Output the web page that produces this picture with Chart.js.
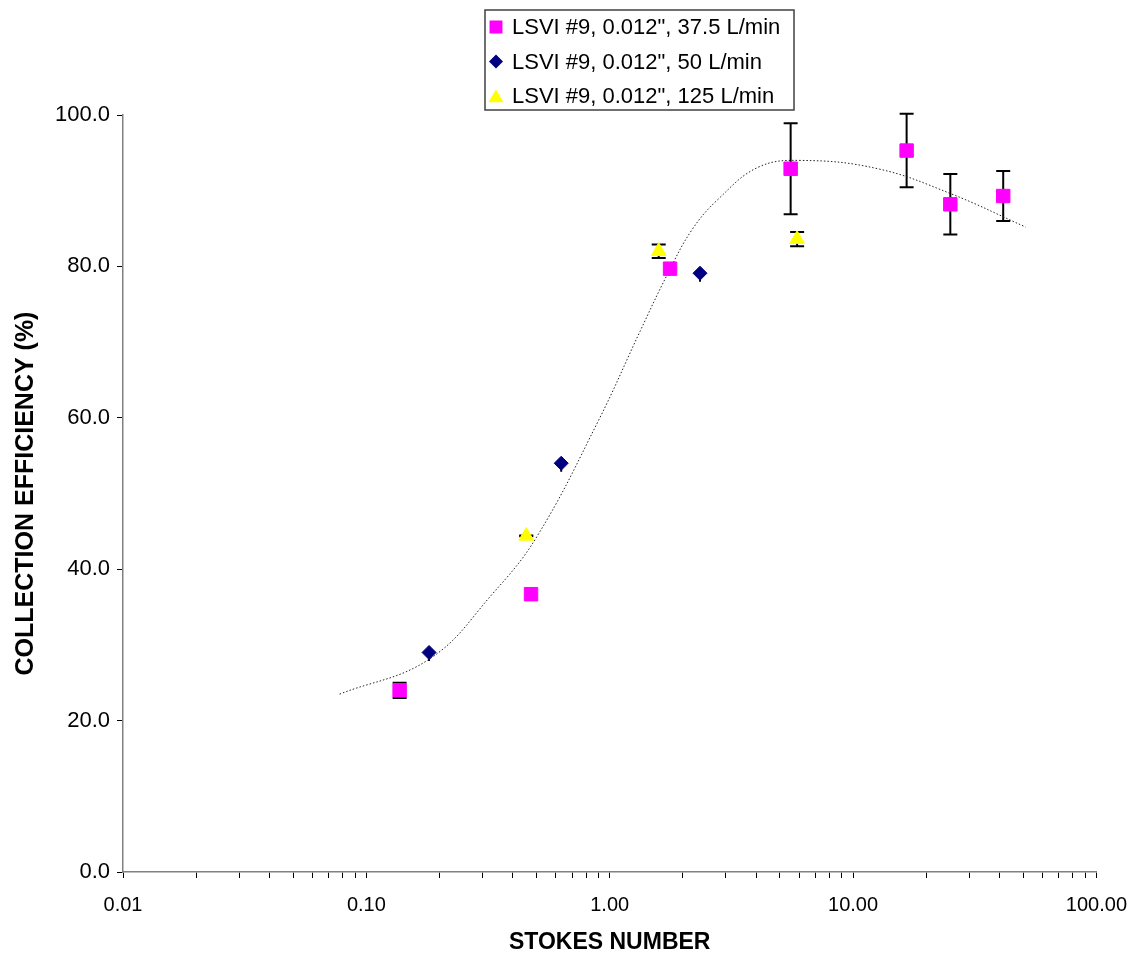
<!DOCTYPE html>
<html>
<head>
<meta charset="utf-8">
<script src="https://cdn.jsdelivr.net/npm/chart.js"></script>
<style>
  body { margin: 0; background: #fff; }
  #wrap { width: 1142px; height: 958px; }
</style>
</head>
<body>
<div id="wrap"><canvas id="effChart" width="1142" height="958"></canvas></div>
<script>
// Stokes number vs collection efficiency, LSVI #9 0.012"
var stk375 = [0.137, 0.475, 1.77, 5.54, 16.6, 25.1, 41.4];
var eff375 = [24.0, 36.7, 79.7, 92.9, 95.3, 88.2, 89.3];
var up375 = [1.0, null, null, 6.0, 4.85, 4.0, 3.3];
var down375 = [1.0, null, null, 6.0, 4.85, 4.0, 3.3];

var stk50 = [0.181, 0.632, 2.35];
var eff50 = [29.0, 54.0, 79.1];
var up50 = [null, null, null];
var down50 = [1.0, 1.0, 1.0];

var stk125 = [0.454, 1.59, 5.89];
var eff125 = [44.4, 82.0, 83.6];
var up125 = [0.05, 0.9, 0.95];
var down125 = [0.05, 0.9, 0.95];

// trendline
var trendX = [0.0776, 0.181, 0.329, 0.502, 0.901, 1.336, 1.717, 2.174, 2.796, 4.077, 6.114, 12.64, 25.23, 51.2];
var trendY = [23.5, 28.1, 36.7, 44.3, 59.7, 71.5, 78.8, 84.8, 88.9, 93.1, 94.0, 92.9, 89.6, 85.2];

var decades = [0.01, 0.1, 1, 10, 100];
var yTicks = [0, 20, 40, 60, 80, 100];

var seriesNames = ['LSVI #9, 0.012", 37.5 L/min', 'LSVI #9, 0.012", 50 L/min', 'LSVI #9, 0.012", 125 L/min'];

var magenta = '#FF00FF';
var navy = '#000080';
var yellow = '#FFFF00';
var axisGray = '#808080';
var narrow = "'Liberation Sans Narrow', 'Arial Narrow', 'Liberation Sans', Arial, sans-serif";
var arial = "'Liberation Sans', Arial, sans-serif";

function pts(xs, ys) {
    return xs.map(function (x, i) { return { x: x, y: ys[i] }; });
}

// x ticks: decades plus 2..9 minors
var logTicks = [];
for (var d = 0; d < decades.length - 1; d++) {
    for (var k = 1; k <= 9; k++) logTicks.push(decades[d] * k);
}
logTicks.push(100);

// ─── error bars (under the markers) ───────────────────────────
var errorBars = {
    id: 'errorBars',
    beforeDatasetsDraw: function (chart) {
        var ctx = chart.ctx;
        var xs = chart.scales.x, ys = chart.scales.y;
        ctx.save();
        ctx.strokeStyle = '#000';
        ctx.lineWidth = 2;
        chart.data.datasets.forEach(function (ds) {
            if (!ds.errUp) return;
            var cap = ds.capHalf || 7;
            ds.data.forEach(function (p, i) {
                var px = xs.getPixelForValue(p.x);
                var py = ys.getPixelForValue(p.y);
                [ds.errUp[i], ds.errDown[i] === null ? null : -ds.errDown[i]].forEach(function (e) {
                    if (e === null || e === undefined) return;
                    var ey = ys.getPixelForValue(p.y + e);
                    ctx.beginPath();
                    ctx.moveTo(px, py); ctx.lineTo(px, ey);
                    ctx.moveTo(px - cap, ey); ctx.lineTo(px + cap, ey);
                    ctx.stroke();
                });
            });
        });
        ctx.restore();
    }
};

// ─── boxed legend at top ──────────────────────────────────────
var boxLegend = {
    id: 'boxLegend',
    afterDraw: function (chart) {
        var ctx = chart.ctx;
        var bx = 485, by = 10, bw = 309, bh = 100;
        ctx.save();
        ctx.fillStyle = '#fff';
        ctx.fillRect(bx, by, bw, bh);
        ctx.strokeStyle = '#404040';
        ctx.lineWidth = 1.5;
        ctx.strokeRect(bx, by, bw, bh);
        ctx.font = '22px ' + arial;
        ctx.textBaseline = 'middle';
        for (var i = 0; i < 3; i++) {
            var ds = chart.data.datasets[i];
            var cy = 27 + i * 34.5;
            ctx.fillStyle = ds.backgroundColor;
            ctx.strokeStyle = ds.borderColor;
            Chart.helpers.drawPoint(ctx, { pointStyle: ds.pointStyle, radius: ds.pointRadius * 0.85, rotation: 0, borderWidth: 1 }, 496, cy + (ds.pointStyle === 'triangle' ? 2 : 0));
            ctx.fillStyle = '#000';
            ctx.fillText(seriesNames[i], 512, cy + 1);
        }
        ctx.restore();
    }
};

new Chart(document.getElementById('effChart').getContext('2d'), {
    type: 'scatter',
    data: {
        datasets: [{
            label: seriesNames[0],
            data: pts(stk375, eff375),
            errUp: up375,
            errDown: down375,
            pointStyle: 'rect',
            pointRadius: 9.5,
            backgroundColor: magenta,
            borderColor: magenta,
            borderWidth: 1,
            order: 1
        }, {
            label: seriesNames[1],
            data: pts(stk50, eff50),
            errUp: up50,
            errDown: down50,
            capHalf: 1,
            pointStyle: 'rectRot',
            pointRadius: 7,
            backgroundColor: navy,
            borderColor: navy,
            borderWidth: 1,
            order: 2
        }, {
            label: seriesNames[2],
            data: pts(stk125, eff125),
            errUp: up125,
            errDown: down125,
            pointStyle: 'triangle',
            pointRadius: 8.5,
            backgroundColor: yellow,
            borderColor: yellow,
            borderWidth: 1,
            order: 3
        }, {
            type: 'line',
            label: 'trend',
            data: pts(trendX, trendY),
            borderColor: '#222',
            borderWidth: 1,
            borderDash: [1.5, 2],
            pointRadius: 0,
            fill: false,
            tension: 0.4,
            order: 4
        }]
    },
    options: {
        responsive: false,
        animation: false,
        layout: { padding: { top: 115, right: 43, left: 0, bottom: 0 } },
        plugins: {
            legend: { display: false },
            tooltip: { enabled: false }
        },
        scales: {
            x: {
                type: 'logarithmic',
                min: 0.01,
                max: 100,
                afterBuildTicks: function (scale) {
                    scale.ticks = logTicks.map(function (v) { return { value: v }; });
                },
                afterFit: function (scale) { scale.height = 86; },
                border: { color: axisGray, width: 1.5 },
                grid: { drawOnChartArea: false, drawTicks: true, tickLength: 6, color: '#000' },
                ticks: {
                    autoSkip: false,
                    maxRotation: 0,
                    padding: 15,
                    color: '#000',
                    font: { family: narrow, size: 20 },
                    callback: function (v) {
                        return decades.indexOf(v) >= 0 ? v.toFixed(2) : '';
                    }
                },
                title: {
                    display: true,
                    text: 'STOKES NUMBER',
                    color: '#000',
                    font: { family: narrow, size: 23, weight: 'bold', lineHeight: 1 },
                    padding: { top: 0, bottom: 4 }
                }
            },
            y: {
                min: 0,
                max: 100,
                afterBuildTicks: function (scale) {
                    scale.ticks = yTicks.map(function (v) { return { value: v }; });
                },
                afterFit: function (scale) { scale.width = 123; },
                border: { color: axisGray, width: 1.5 },
                grid: { drawOnChartArea: false, drawTicks: true, tickLength: 6, color: '#000' },
                ticks: {
                    padding: 7,
                    color: '#000',
                    font: { family: arial, size: 22 },
                    callback: function (v) { return Number(v).toFixed(1); }
                },
                title: {
                    display: true,
                    text: 'COLLECTION EFFICIENCY (%)',
                    color: '#000',
                    font: { family: narrow, size: 25, weight: 'bold', lineHeight: 1 },
                    padding: { top: 14, bottom: 0 }
                }
            }
        }
    },
    plugins: [errorBars, boxLegend]
});
</script>
</body>
</html>
